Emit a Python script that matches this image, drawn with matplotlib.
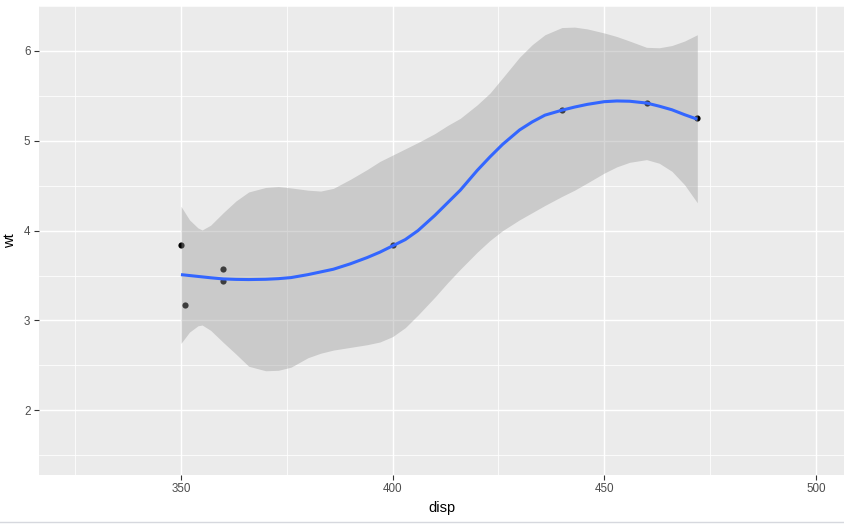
import numpy as np
import matplotlib
matplotlib.use("Agg")
import matplotlib.pyplot as plt
from matplotlib.lines import Line2D

# mtcars points (disp, wt)
disp = [350, 351, 360, 360, 400, 440, 460, 472]
wt = [3.84, 3.17, 3.44, 3.57, 3.845, 5.345, 5.424, 5.25]

# loess curve and its band
grid = [350, 352, 354, 355, 357, 360, 363, 366, 370, 373, 376, 380, 383, 386,
        390, 394, 397, 400, 403, 406, 410, 413, 416, 420, 423, 426, 430, 433,
        436, 440, 443, 446, 450, 453, 456, 460, 463, 466, 469, 472]
fit = [3.51, 3.50, 3.49, 3.485, 3.475, 3.462, 3.457, 3.455, 3.458, 3.465,
       3.477, 3.51, 3.54, 3.57, 3.63, 3.70, 3.76, 3.83, 3.90, 4.00, 4.17,
       4.31, 4.45, 4.67, 4.82, 4.96, 5.12, 5.21, 5.285, 5.34, 5.375, 5.405,
       5.435, 5.443, 5.44, 5.42, 5.385, 5.345, 5.29, 5.24]
upper = [4.27, 4.12, 4.03, 4.007, 4.06, 4.20, 4.33, 4.43, 4.48, 4.49, 4.475,
         4.45, 4.44, 4.47, 4.57, 4.68, 4.77, 4.84, 4.91, 4.98, 5.08, 5.17,
         5.25, 5.40, 5.53, 5.70, 5.93, 6.07, 6.18, 6.26, 6.265, 6.245, 6.20,
         6.16, 6.11, 6.04, 6.035, 6.06, 6.11, 6.18]
lower = [2.745, 2.87, 2.94, 2.949, 2.89, 2.755, 2.625, 2.49, 2.44, 2.445,
         2.48, 2.585, 2.635, 2.67, 2.70, 2.73, 2.76, 2.82, 2.92, 3.06, 3.26,
         3.42, 3.57, 3.76, 3.89, 4.00, 4.12, 4.20, 4.28, 4.38, 4.45, 4.53,
         4.64, 4.71, 4.76, 4.79, 4.75, 4.66, 4.51, 4.31]

x_major = [350, 400, 450, 500]
x_minor = [325, 375, 425, 475]
y_major = [2, 3, 4, 5, 6]
y_minor = [1.5, 2.5, 3.5, 4.5, 5.5, 6.5]

plt.rcParams['font.family'] = ['Liberation Sans', 'DejaVu Sans']

fig = plt.figure(figsize=(8.45, 5.27), dpi=100)
ax = fig.add_axes([39 / 845, 1 - 474.7 / 527, 1 - 39 / 845, (474.7 - 6) / 527])
ax.set_facecolor('#EBEBEB')

ax.set_xlim(316.45, 506.9)
ax.set_ylim(1.283, 6.50)

for v in x_minor:
    ax.axvline(v, color='white', lw=0.55, zorder=0.5)
for v in y_minor:
    ax.axhline(v, color='white', lw=0.55, zorder=0.5)
for v in x_major:
    ax.axvline(v, color='white', lw=1.05, zorder=0.6)
for v in y_major:
    ax.axhline(v, color='white', lw=1.05, zorder=0.6)

# points first, then the ribbon over them, then the fitted line
ax.scatter(disp, wt, s=20, color='black', zorder=2, linewidths=0)
ax.fill_between(grid, lower, upper, color='#999999', alpha=0.4, lw=0, zorder=3)
ax.plot(grid, fit, color='#3366FF', lw=2.2, zorder=4, solid_capstyle='butt',
        solid_joinstyle='round')

ax.set_xticks(x_major)
ax.set_yticks(y_major)
ax.tick_params(axis='both', colors='#333333', length=3.7, width=0.8,
               labelsize=8.4, labelcolor='#4D4D4D', pad=2.5)
for s in ax.spines.values():
    s.set_visible(False)

ax.set_xlabel('disp', fontsize=10.5, color='black', labelpad=4)
ax.set_ylabel('wt', fontsize=10.5, color='black', labelpad=5)

# faint frame line at the very bottom of the screenshot
fig.add_artist(Line2D([0, 1], [1 - 522 / 527, 1 - 522 / 527],
                      transform=fig.transFigure, color='#D6D8DE', lw=1))

fig.savefig('out.png', dpi=100)
